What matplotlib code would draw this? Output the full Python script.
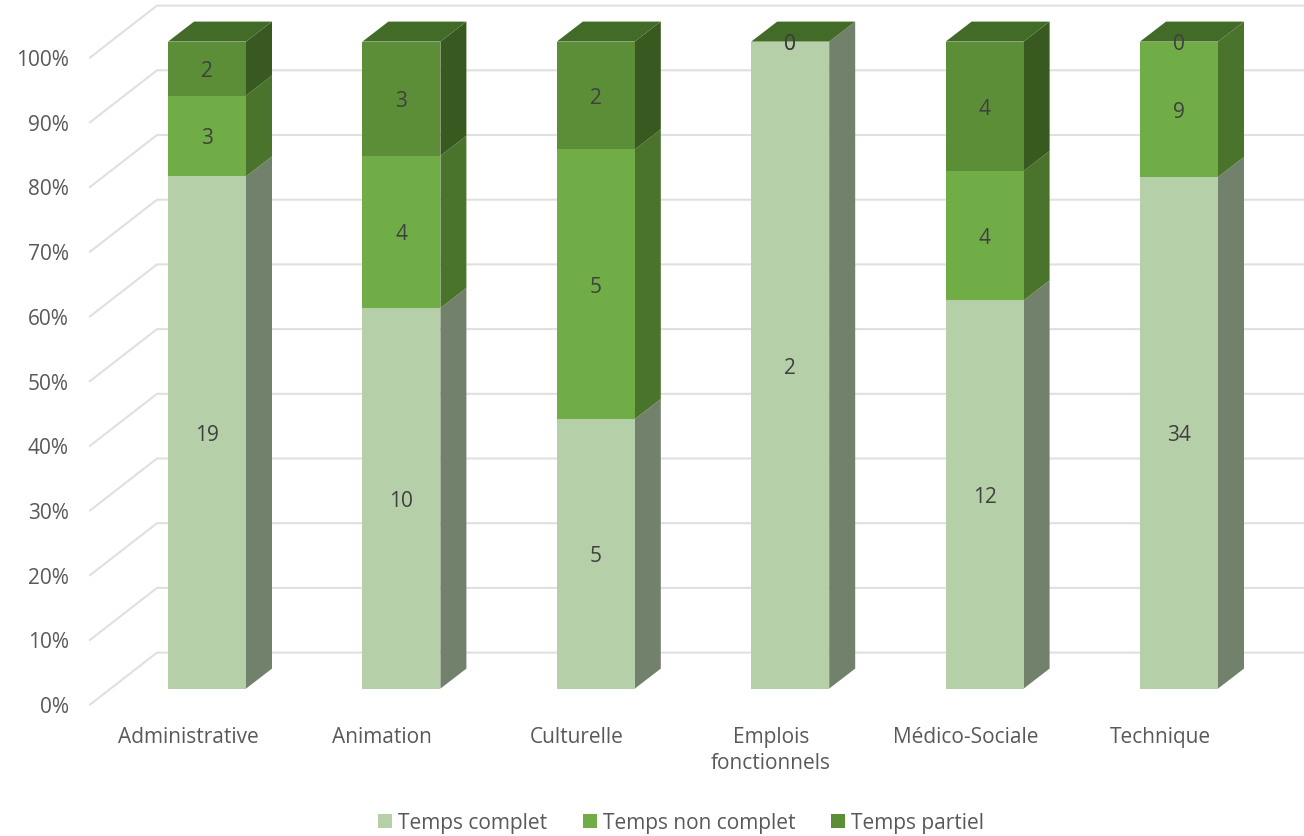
import matplotlib
matplotlib.use("Agg")
import matplotlib.pyplot as plt
from matplotlib.patches import Patch
import numpy as np

plt.rcParams['font.family'] = ['Open Sans', 'DejaVu Sans']

categories = ['Administrative', 'Animation', 'Culturelle', 'Emplois\nfonctionnels', 'Médico-Sociale', 'Technique']
series_names = ['Temps complet', 'Temps non complet', 'Temps partiel']
complet = [19, 10, 5, 2, 12, 34]
non_complet = [3, 4, 5, 0, 4, 9]
partiel = [2, 3, 2, 0, 4, 0]
percent_ticks = [0, 10, 20, 30, 40, 50, 60, 70, 80, 90, 100]

front_colors = ['#b5cfa8', '#70ad47', '#5b8e37']
side_colors = ['#72816b', '#4a742c', '#38591f']
top_color = '#436b28'
grid_color = '#e0e0e0'

# pixel scale of the category and percent axes
px_x = 194.4
px_y = 6.47
bar_w = 78 / px_x
dx = 26 / px_x
dy = 20 / px_y

fig = plt.figure(figsize=(13.04, 8.37), dpi=100)
ax = fig.add_axes([0, 0, 1, 1])
ax.set_xlim(-207 / px_x, (1304 - 207) / px_x)
ax.set_ylim(-(837 - 689.6) / px_y, 100 + 42.6 / px_y)
ax.axis('off')

# back wall and left wall gridlines
for p in percent_ticks:
	y_back = p + 36 / px_y
	y_left = p - 16 / px_y
	ax.plot([(90 - 207) / px_x, (157 - 207) / px_x, 1304 / px_x], [y_left, y_back, y_back],
		color=grid_color, lw=1.5, zorder=1, solid_joinstyle='miter')
	ax.text((69 - 207) / px_x, y_left - 2 / px_y, f'{p}%', ha='right', va='center', fontsize=15, color='#595959')

# stacked bars, shares computed from the counts
counts = np.array([complet, non_complet, partiel], dtype=float)
shares = counts / counts.sum(axis=0) * 100

for i, name in enumerate(categories):
	left = i - bar_w / 2
	right = i + bar_w / 2
	base = 0
	for s in range(3):
		h = shares[s, i]
		if h > 0:
			ax.fill([right, right + dx, right + dx, right], [base, base + dy, base + h + dy, base + h],
				color=side_colors[s], lw=0, zorder=2)
			ax.fill([left, right, right, left], [base, base, base + h, base + h],
				color=front_colors[s], lw=0, zorder=3)
		base += h
	ax.fill([left, right, right + dx, left + dx], [100, 100, 100 + dy, 100 + dy],
		color=top_color, lw=0, zorder=2)

	# data labels
	base = 0
	for s in range(3):
		h = shares[s, i]
		ax.text(i, base + h / 2 - 2 / px_y, f'{int(counts[s, i])}', ha='center', va='center',
			fontsize=15, color='#404040', zorder=4)
		base += h

	# category labels, two line names sit a little lower
	label_y = 750 if '\n' in name else 736.5
	ax.text(i - 19 / px_x, -(label_y - 689) / px_y, name, ha='center', va='center',
		fontsize=15, color='#595959', linespacing=1.3)

handles = [Patch(color=c, lw=0) for c in front_colors]
ax.legend(handles, series_names, ncol=3, loc='center', bbox_to_anchor=(681 / 1304, 1 - 824 / 837),
	frameon=False, fontsize=15, labelcolor='#595959', handlelength=0.67, handleheight=0.67,
	handletextpad=0.28, columnspacing=1.71, borderpad=0)

fig.savefig('out.png', dpi=100)
